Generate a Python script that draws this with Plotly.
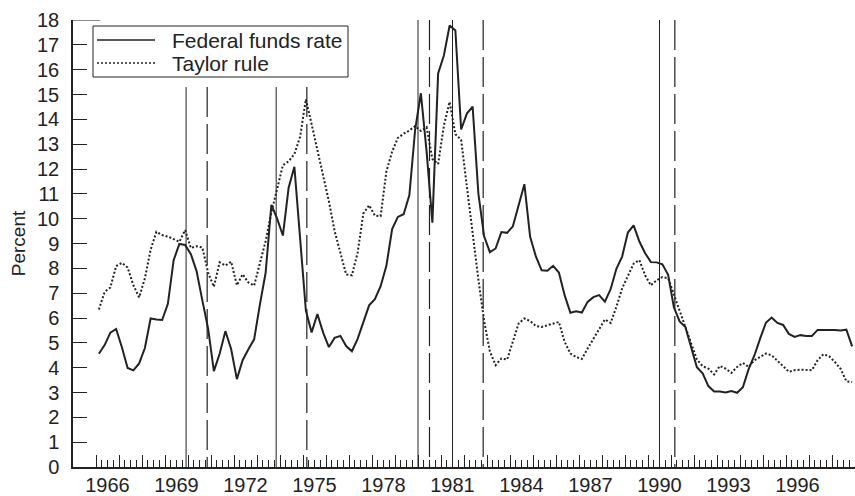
import plotly.graph_objects as go

# ---------------- data ----------------
years = list(range(1966, 1999))
quarters = [f"{y}Q{q}" for y in years for q in range(1, 5)]

fed_funds = [
    4.56, 4.91, 5.41, 5.56,   # 1966
    4.82, 3.99, 3.89, 4.17,   # 1967
    4.79, 5.98, 5.94, 5.92,   # 1968
    6.57, 8.33, 8.98, 8.94,   # 1969
    8.57, 7.88, 6.70, 5.57,   # 1970
    3.86, 4.56, 5.47, 4.75,   # 1971
    3.54, 4.30, 4.74, 5.14,   # 1972
    6.54, 7.82, 10.56, 10.00, # 1973
    9.32, 11.25, 12.09, 9.35, # 1974
    6.30, 5.42, 6.16, 5.41,   # 1975
    4.83, 5.20, 5.28, 4.87,   # 1976
    4.66, 5.16, 5.82, 6.51,   # 1977
    6.76, 7.28, 8.10, 9.58,   # 1978
    10.07, 10.18, 10.95, 13.58,  # 1979
    15.05, 12.69, 9.84, 15.85,   # 1980
    16.57, 17.78, 17.58, 13.59,  # 1981
    14.23, 14.51, 11.01, 9.29,   # 1982
    8.65, 8.80, 9.46, 9.43,   # 1983
    9.69, 10.56, 11.39, 9.27, # 1984
    8.48, 7.92, 7.90, 8.10,   # 1985
    7.83, 6.92, 6.21, 6.27,   # 1986
    6.22, 6.65, 6.84, 6.92,   # 1987
    6.66, 7.16, 7.98, 8.47,   # 1988
    9.44, 9.73, 9.08, 8.61,   # 1989
    8.25, 8.24, 8.16, 7.74,   # 1990
    6.43, 5.86, 5.64, 4.82,   # 1991
    4.02, 3.77, 3.26, 3.04,   # 1992
    3.04, 3.00, 3.06, 2.99,   # 1993
    3.21, 3.94, 4.49, 5.17,   # 1994
    5.81, 6.02, 5.80, 5.72,   # 1995
    5.36, 5.24, 5.31, 5.28,   # 1996
    5.28, 5.52, 5.53, 5.51,   # 1997
    5.52, 5.50, 5.53, 4.86,   # 1998
]

taylor_rule = [
    6.34, 7.05, 7.23, 8.09,   # 1966
    8.22, 8.03, 7.32, 6.83,   # 1967
    7.60, 8.75, 9.47, 9.34,   # 1968
    9.28, 9.18, 9.07, 9.54,   # 1969
    8.82, 8.89, 8.84, 7.82,   # 1970
    7.26, 8.24, 8.11, 8.27,   # 1971
    7.32, 7.76, 7.43, 7.30,   # 1972
    8.19, 9.10, 10.25, 11.20, # 1973
    12.15, 12.31, 12.60, 13.30,  # 1974
    14.81, 13.80, 12.80, 11.80,  # 1975
    10.70, 9.50, 8.60, 7.75,  # 1976
    7.72, 8.63, 10.21, 10.54, # 1977
    10.12, 10.10, 11.90, 12.70,  # 1978
    13.25, 13.42, 13.55, 13.73,  # 1979
    13.53, 13.68, 12.40, 12.20,  # 1980
    13.75, 14.70, 13.40, 13.18,  # 1981
    11.30, 9.30, 7.55, 5.88,  # 1982
    4.65, 4.10, 4.37, 4.33,   # 1983
    5.04, 5.78, 5.98, 5.88,   # 1984
    5.68, 5.64, 5.71, 5.78,   # 1985
    5.84, 5.04, 4.57, 4.43,   # 1986
    4.35, 4.77, 5.17, 5.54,   # 1987
    5.94, 5.80, 6.45, 7.19,   # 1988
    7.72, 8.19, 8.33, 7.72,   # 1989
    7.32, 7.52, 7.65, 7.60,   # 1990
    6.95, 6.30, 5.65, 4.94,   # 1991
    4.33, 4.06, 3.96, 3.73,   # 1992
    4.07, 3.96, 3.79, 4.03,   # 1993
    4.19, 4.03, 4.30, 4.43,   # 1994
    4.57, 4.50, 4.30, 4.06,   # 1995
    3.83, 3.90, 3.92, 3.92,   # 1996
    3.90, 4.30, 4.54, 4.46,   # 1997
    4.23, 3.95, 3.45, 3.42,   # 1998
]

series_names = ["Federal funds rate", "Taylor rule"]

# business-cycle peaks (solid) and troughs (dashed), year-month
cycle_peaks = ["1969-12", "1973-11", "1980-01", "1981-07", "1990-07"]
cycle_troughs = ["1970-11", "1975-03", "1980-07", "1982-11", "1991-03"]

label_years = [1966, 1969, 1972, 1975, 1978, 1981, 1984, 1987, 1990, 1993, 1996]
y_ticks = list(range(0, 19))


# ---------------- helpers ----------------
def quarter_pos(label):
    y, q = label.split("Q")
    return int(y) + (int(q) - 0.5) / 4


def month_pos(label):
    y, m = label.split("-")
    return int(y) + (int(m) - 1) / 12


W, H = 855, 496
ML, MR, MT, MB = 73, 0, 20, 29
PW, PH = W - ML - MR, H - MT - MB


def px_x(px):  # pixel -> paper x
    return (px - ML) / PW


def px_y(py):  # pixel -> paper y
    return (H - MB - py) / PH


x_q = [quarter_pos(q) for q in quarters]
INK = "#222222"
FONT = "Liberation Sans, Arial, sans-serif"
DOT = "2px,2px"

fig = go.Figure()
fig.add_trace(go.Scatter(x=x_q, y=fed_funds, mode="lines", name=series_names[0],
                         showlegend=False, line=dict(color=INK, width=2)))
fig.add_trace(go.Scatter(x=x_q, y=taylor_rule, mode="lines", name=series_names[1],
                         showlegend=False, line=dict(color=INK, width=2, dash=DOT)))
# carrier for the year-label axis
fig.add_trace(go.Scatter(x=[label_years[0] + 0.5], y=[None], xaxis="x2", showlegend=False,
                         hoverinfo="skip", mode="lines"))

shapes = []
for d in cycle_peaks:
    xv = month_pos(d)
    top = 15.3 if xv < 1977 else 18
    shapes.append(dict(type="line", xref="x", yref="y", x0=xv, x1=xv, y0=0, y1=top,
                       line=dict(color=INK, width=1)))
for d in cycle_troughs:
    xv = month_pos(d)
    top = 15.3 if xv < 1977 else 18
    shapes.append(dict(type="line", xref="x", yref="y", x0=xv, x1=xv, y0=top, y1=0,
                       line=dict(color=INK, width=1.2, dash="30px,7px")))
# long top tick at 18
shapes.append(dict(type="line", xref="x", yref="y", x0=1965, x1=1966.19, y0=18, y1=18,
                   line=dict(color=INK, width=1)))

# hand-drawn legend box
shapes.append(dict(type="rect", xref="paper", yref="paper",
                   x0=px_x(93), x1=px_x(348), y0=px_y(77), y1=px_y(26),
                   line=dict(color=INK, width=1), fillcolor="white", layer="above"))
legend_rows = [40, 63]
legend_dash = ["solid", DOT]
annotations = []
for name, row, dsh in zip(series_names, legend_rows, legend_dash):
    shapes.append(dict(type="line", xref="paper", yref="paper",
                       x0=px_x(97), x1=px_x(155), y0=px_y(row), y1=px_y(row),
                       line=dict(color=INK, width=1.6, dash=dsh), layer="above"))
    annotations.append(dict(text=name, xref="paper", yref="paper", x=px_x(170),
                            y=px_y(row), xanchor="left", yanchor="middle",
                            showarrow=False, font=dict(size=21, color=INK, family=FONT)))

major_ticks = [y for y in range(1966, 1999)]
minor_ticks = [y + k / 4 for y in range(1966, 1999) for k in range(1, 4)]

fig.update_layout(
    width=W, height=H,
    margin=dict(l=ML, r=MR, t=MT, b=MB, pad=0),
    paper_bgcolor="white", plot_bgcolor="white",
    font=dict(family=FONT, size=20, color=INK),
    showlegend=False,
    shapes=shapes,
    annotations=annotations,
    xaxis=dict(range=[1965, 1999], showgrid=False, zeroline=False, automargin=False,
               showline=True, linecolor=INK, linewidth=1.5,
               tickmode="array", tickvals=major_ticks, ticktext=[""] * len(major_ticks),
               ticks="inside", ticklen=12, tickwidth=1, tickcolor=INK,
               showticklabels=False,
               minor=dict(tickmode="array", tickvals=minor_ticks, ticks="inside",
                          ticklen=7, tickwidth=1, tickcolor=INK, showgrid=False)),
    xaxis2=dict(overlaying="x", anchor="y", side="bottom", range=[1965, 1999],
                showgrid=False, zeroline=False, showline=False, ticks="", automargin=False,
                tickmode="array", tickvals=[y + 0.5 for y in label_years],
                ticktext=[str(y) for y in label_years], ticklabelstandoff=4,
                tickfont=dict(size=20, color=INK)),
    yaxis=dict(range=[0, 18], showgrid=False, zeroline=False, automargin=False,
               showline=True, linecolor=INK, linewidth=1.5,
               tickmode="array", tickvals=y_ticks, ticktext=[str(v) for v in y_ticks],
               ticks="inside", ticklen=14, tickwidth=1.2, tickcolor=INK,
               ticklabelstandoff=8, tickfont=dict(size=20, color=INK),
               title=dict(text="Percent", font=dict(size=19, color=INK), standoff=6)),
)

fig.write_html("out.html", config={"displayModeBar": False},
               post_script="document.body.style.margin='0px';")
